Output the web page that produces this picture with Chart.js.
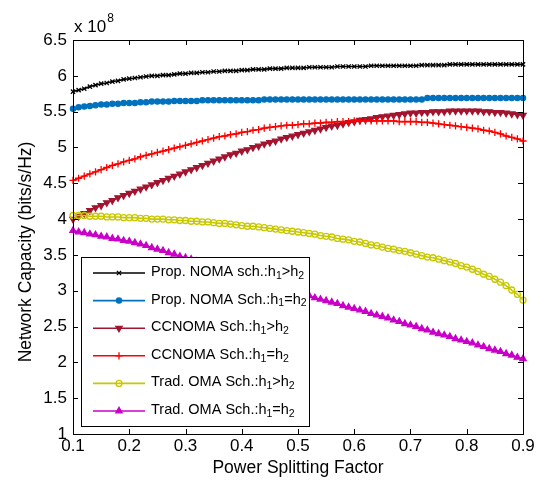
<!DOCTYPE html>
<html>
<head>
<meta charset="utf-8">
<script src="https://cdn.jsdelivr.net/npm/chart.js@4.4.0/dist/chart.umd.min.js"></script>
<style>
  html, body { margin: 0; padding: 0; background: #fff; }
  #wrap { width: 542px; height: 480px; }
</style>
</head>
<body>
<div id="wrap"><canvas id="myChart" width="542" height="480"></canvas></div>
<script>
// power splitting factor (x axis)
const psf = [
  0.10, 0.11, 0.12, 0.13, 0.14, 0.15, 0.16, 0.17, 0.18, 0.19,
  0.20, 0.21, 0.22, 0.23, 0.24, 0.25, 0.26, 0.27, 0.28, 0.29,
  0.30, 0.31, 0.32, 0.33, 0.34, 0.35, 0.36, 0.37, 0.38, 0.39,
  0.40, 0.41, 0.42, 0.43, 0.44, 0.45, 0.46, 0.47, 0.48, 0.49,
  0.50, 0.51, 0.52, 0.53, 0.54, 0.55, 0.56, 0.57, 0.58, 0.59,
  0.60, 0.61, 0.62, 0.63, 0.64, 0.65, 0.66, 0.67, 0.68, 0.69,
  0.70, 0.71, 0.72, 0.73, 0.74, 0.75, 0.76, 0.77, 0.78, 0.79,
  0.80, 0.81, 0.82, 0.83, 0.84, 0.85, 0.86, 0.87, 0.88, 0.89,
  0.90
]

// network capacity, x 10^8 bits/s/Hz
const propNomaGt = [
  5.78, 5.80, 5.82, 5.85, 5.87, 5.89, 5.90, 5.92, 5.93, 5.95,
  5.96, 5.97, 5.98, 5.99, 6.00, 6.00, 6.01, 6.01, 6.02, 6.03,
  6.03, 6.04, 6.04, 6.05, 6.05, 6.06, 6.06, 6.07, 6.07, 6.07,
  6.08, 6.08, 6.09, 6.09, 6.09, 6.10, 6.10, 6.10, 6.11, 6.11,
  6.11, 6.11, 6.12, 6.12, 6.12, 6.12, 6.12, 6.13, 6.13, 6.13,
  6.13, 6.13, 6.13, 6.14, 6.14, 6.14, 6.14, 6.14, 6.14, 6.14,
  6.14, 6.14, 6.15, 6.15, 6.15, 6.15, 6.15, 6.16, 6.16, 6.16,
  6.16, 6.16, 6.16, 6.16, 6.16, 6.16, 6.16, 6.16, 6.16, 6.16,
  6.16
]
const propNomaEq = [
  5.54, 5.56, 5.57, 5.58, 5.59, 5.60, 5.60, 5.61, 5.61, 5.62,
  5.62, 5.62, 5.63, 5.63, 5.64, 5.64, 5.64, 5.64, 5.65, 5.65,
  5.65, 5.65, 5.65, 5.66, 5.66, 5.66, 5.66, 5.66, 5.66, 5.66,
  5.66, 5.66, 5.66, 5.66, 5.67, 5.67, 5.67, 5.67, 5.67, 5.67,
  5.67, 5.67, 5.67, 5.67, 5.67, 5.67, 5.67, 5.67, 5.67, 5.67,
  5.67, 5.67, 5.67, 5.67, 5.67, 5.67, 5.67, 5.67, 5.67, 5.67,
  5.67, 5.67, 5.67, 5.69, 5.69, 5.69, 5.69, 5.69, 5.69, 5.69,
  5.69, 5.69, 5.69, 5.69, 5.69, 5.69, 5.69, 5.69, 5.69, 5.69,
  5.69
]
const ccnomaGt = [
  4.00, 4.04, 4.08, 4.12, 4.16, 4.19, 4.23, 4.26, 4.30, 4.33,
  4.36, 4.39, 4.42, 4.45, 4.48, 4.51, 4.54, 4.57, 4.60, 4.63,
  4.66, 4.69, 4.72, 4.75, 4.78, 4.81, 4.84, 4.87, 4.90, 4.92,
  4.95, 4.97, 5.00, 5.02, 5.05, 5.07, 5.09, 5.12, 5.14, 5.16,
  5.18, 5.20, 5.22, 5.24, 5.26, 5.28, 5.30, 5.31, 5.33, 5.35,
  5.36, 5.38, 5.39, 5.40, 5.42, 5.43, 5.44, 5.45, 5.46, 5.47,
  5.48, 5.48, 5.49, 5.49, 5.50, 5.50, 5.50, 5.51, 5.51, 5.51,
  5.51, 5.51, 5.51, 5.50, 5.50, 5.49, 5.49, 5.48, 5.47, 5.46,
  5.45
]
const ccnomaEq = [
  4.54, 4.57, 4.60, 4.63, 4.66, 4.69, 4.72, 4.75, 4.77, 4.80,
  4.82, 4.84, 4.87, 4.89, 4.91, 4.93, 4.95, 4.97, 4.99, 5.01,
  5.03, 5.05, 5.07, 5.09, 5.11, 5.13, 5.15, 5.16, 5.18, 5.19,
  5.21, 5.22, 5.24, 5.25, 5.27, 5.28, 5.29, 5.30, 5.31, 5.31,
  5.32, 5.33, 5.33, 5.34, 5.34, 5.35, 5.35, 5.36, 5.36, 5.36,
  5.37, 5.37, 5.37, 5.37, 5.37, 5.37, 5.37, 5.37, 5.36, 5.36,
  5.36, 5.36, 5.35, 5.35, 5.34, 5.33, 5.32, 5.31, 5.30, 5.29,
  5.28, 5.27, 5.26, 5.24, 5.23, 5.21, 5.19, 5.16, 5.14, 5.12,
  5.09
]
const omaGt = [
  4.05, 4.05, 4.05, 4.04, 4.04, 4.04, 4.03, 4.03, 4.03, 4.02,
  4.02, 4.02, 4.01, 4.01, 4.00, 4.00, 4.00, 3.99, 3.99, 3.98,
  3.98, 3.97, 3.97, 3.96, 3.96, 3.95, 3.94, 3.94, 3.93, 3.92,
  3.91, 3.90, 3.90, 3.89, 3.88, 3.87, 3.86, 3.85, 3.84, 3.83,
  3.82, 3.81, 3.80, 3.79, 3.77, 3.76, 3.75, 3.73, 3.72, 3.71,
  3.69, 3.68, 3.66, 3.64, 3.63, 3.61, 3.59, 3.58, 3.56, 3.55,
  3.53, 3.51, 3.49, 3.47, 3.46, 3.44, 3.42, 3.40, 3.38, 3.35,
  3.33, 3.30, 3.27, 3.23, 3.20, 3.16, 3.12, 3.07, 3.01, 2.95,
  2.87
]
const omaEq = [
  3.84, 3.82, 3.81, 3.79, 3.78, 3.76, 3.75, 3.73, 3.72, 3.70,
  3.69, 3.67, 3.65, 3.63, 3.60, 3.58, 3.56, 3.53, 3.51, 3.48,
  3.46, 3.44, 3.41, 3.39, 3.36, 3.34, 3.31, 3.29, 3.26, 3.24,
  3.21, 3.19, 3.16, 3.14, 3.11, 3.09, 3.07, 3.04, 3.02, 2.99,
  2.97, 2.95, 2.93, 2.90, 2.88, 2.86, 2.84, 2.82, 2.79, 2.77,
  2.75, 2.73, 2.71, 2.68, 2.66, 2.64, 2.62, 2.59, 2.57, 2.54,
  2.52, 2.50, 2.47, 2.45, 2.42, 2.40, 2.38, 2.36, 2.33, 2.31,
  2.29, 2.27, 2.24, 2.22, 2.19, 2.17, 2.15, 2.12, 2.10, 2.07,
  2.05
]

const seriesLabels = [
  'Prop. NOMA sch.:h_1>h_2',
  'Prop. NOMA Sch.:h_1=h_2',
  'CCNOMA Sch.:h_1>h_2',
  'CCNOMA Sch.:h_1=h_2',
  'Trad. OMA Sch.:h_1>h_2',
  'Trad. OMA Sch.:h_1=h_2'
]
const seriesValues = [propNomaGt, propNomaEq, ccnomaGt, ccnomaEq, omaGt, omaEq]
const seriesColors = ['#000000', '#0072BD', '#A2142F', '#FF0000', '#C8C800', '#C800C8']
const markers = [
  { pointStyle: 'crossRot', pointRadius: 3, rotation: 0, fill: false },
  { pointStyle: 'circle', pointRadius: 2.6, rotation: 0, fill: true },
  { pointStyle: 'triangle', pointRadius: 3.6, rotation: 180, fill: true },
  { pointStyle: 'cross', pointRadius: 3.6, rotation: 0, fill: false },
  { pointStyle: 'circle', pointRadius: 3, rotation: 0, fill: false },
  { pointStyle: 'triangle', pointRadius: 3.6, rotation: 0, fill: true }
]

const FONT = "'Liberation Sans', Arial, Helvetica, sans-serif"
const yTitle = 'Network Capacity (bits/s/Hz)'

const datasets = seriesValues.map((vals, i) => ({
  label: seriesLabels[i],
  data: vals.map((v, j) => ({ x: psf[j], y: v })),
  borderColor: seriesColors[i],
  backgroundColor: markers[i].fill ? seriesColors[i] : 'rgba(0,0,0,0)',
  pointBorderColor: seriesColors[i],
  pointBackgroundColor: markers[i].fill ? seriesColors[i] : 'rgba(0,0,0,0)',
  pointStyle: markers[i].pointStyle,
  pointRadius: markers[i].pointRadius,
  pointRotation: markers[i].rotation,
  pointBorderWidth: 1.3,
  borderWidth: 1.6,
  tension: 0,
  clip: 6,
  order: seriesValues.length - i
}))

// label text with _x subscripts
function drawRich(ctx, text, x, y) {
  const parts = text.split(/_(\d)/)
  let cx = x
  parts.forEach((p, k) => {
    if (k % 2 === 1) {
      ctx.font = '10.5px ' + FONT
      ctx.fillText(p, cx, y + 4)
    } else {
      ctx.font = '14.5px ' + FONT
      ctx.fillText(p, cx, y)
    }
    cx += ctx.measureText(p).width
  })
}

const framePlugin = {
  id: 'frame',
  afterDatasetsDraw(chart) {
    const ctx = chart.ctx
    const a = chart.chartArea
    const xs = chart.scales.x
    const ys = chart.scales.y
    ctx.save()
    ctx.strokeStyle = '#000'
    ctx.lineWidth = 1
    // inward ticks on all four sides
    ctx.beginPath()
    xs.ticks.forEach(t => {
      const px = Math.round(xs.getPixelForValue(t.value)) + 0.5
      ctx.moveTo(px, a.bottom); ctx.lineTo(px, a.bottom - 5)
      ctx.moveTo(px, a.top); ctx.lineTo(px, a.top + 5)
    })
    ys.ticks.forEach(t => {
      const py = Math.round(ys.getPixelForValue(t.value)) + 0.5
      ctx.moveTo(a.left, py); ctx.lineTo(a.left + 5, py)
      ctx.moveTo(a.right, py); ctx.lineTo(a.right - 5, py)
    })
    ctx.stroke()
    ctx.strokeRect(Math.round(a.left) + 0.5, Math.round(a.top) + 0.5,
      Math.round(a.right - a.left), Math.round(a.bottom - a.top))

    // y axis title
    ctx.fillStyle = '#000'
    ctx.save()
    ctx.translate(26, 252)
    ctx.rotate(-Math.PI / 2)
    ctx.textAlign = 'center'
    ctx.textBaseline = 'middle'
    ctx.font = '17.5px ' + FONT
    ctx.fillText(yTitle, 0, 0)
    ctx.restore()

    // exponent label
    ctx.textBaseline = 'alphabetic'
    ctx.textAlign = 'left'
    ctx.font = '17px ' + FONT
    ctx.fillText('x 10', a.left + 1, a.top - 8)
    const w = ctx.measureText('x 10').width
    ctx.font = '12px ' + FONT
    ctx.fillText('8', a.left + 2 + w, a.top - 18)

    // legend box
    const bx = 81.5, by = 257.5, bw = 228, bh = 169
    ctx.fillStyle = '#fff'
    ctx.fillRect(bx, by, bw, bh)
    ctx.lineWidth = 1
    ctx.strokeStyle = '#000'
    ctx.strokeRect(bx, by, bw, bh)
    chart.data.datasets.forEach((ds, i) => {
      const ry = 273 + i * 27.6
      ctx.strokeStyle = ds.borderColor
      ctx.lineWidth = 1.6
      ctx.beginPath()
      ctx.moveTo(93, ry); ctx.lineTo(145, ry)
      ctx.stroke()
      ctx.fillStyle = ds.pointBackgroundColor
      ctx.lineWidth = 1.3
      Chart.helpers.drawPoint(ctx, {
        pointStyle: ds.pointStyle,
        rotation: ds.pointRotation,
        radius: ds.pointRadius,
        borderWidth: 1.3
      }, 119, ry)
      ctx.fillStyle = '#000'
      ctx.textBaseline = 'middle'
      drawRich(ctx, ds.label, 151, ry - 1)
    })
    ctx.restore()
  }
}

const ctx = document.getElementById('myChart').getContext('2d')
const myChart = new Chart(ctx, {
  type: 'line',
  data: { datasets },
  options: {
    responsive: false,
    animation: false,
    devicePixelRatio: 1,
    layout: { padding: { left: 0, right: 19, top: 40, bottom: 0 } },
    plugins: { legend: { display: false }, tooltip: { enabled: false } },
    scales: {
      x: {
        type: 'linear',
        min: 0.1,
        max: 0.9,
        grid: { display: false, drawTicks: false },
        border: { display: false },
        ticks: {
          stepSize: 0.1,
          padding: 2,
          color: '#000',
          maxRotation: 0,
          autoSkip: false,
          font: { family: FONT, size: 17 },
          callback: v => v.toFixed(1)
        },
        title: {
          display: true,
          text: 'Power Splitting Factor',
          color: '#000',
          font: { family: FONT, size: 17.5 },
          padding: { top: 0, bottom: 1 }
        },
        afterFit(scale) { scale.height = 46 }
      },
      y: {
        min: 1,
        max: 6.5,
        grid: { display: false, drawTicks: false },
        border: { display: false },
        ticks: {
          stepSize: 0.5,
          padding: 6,
          color: '#000',
          font: { family: FONT, size: 17 },
          callback: v => String(v)
        },
        afterFit(scale) { scale.width = 73 }
      }
    }
  },
  plugins: [framePlugin]
})
</script>
</body>
</html>
